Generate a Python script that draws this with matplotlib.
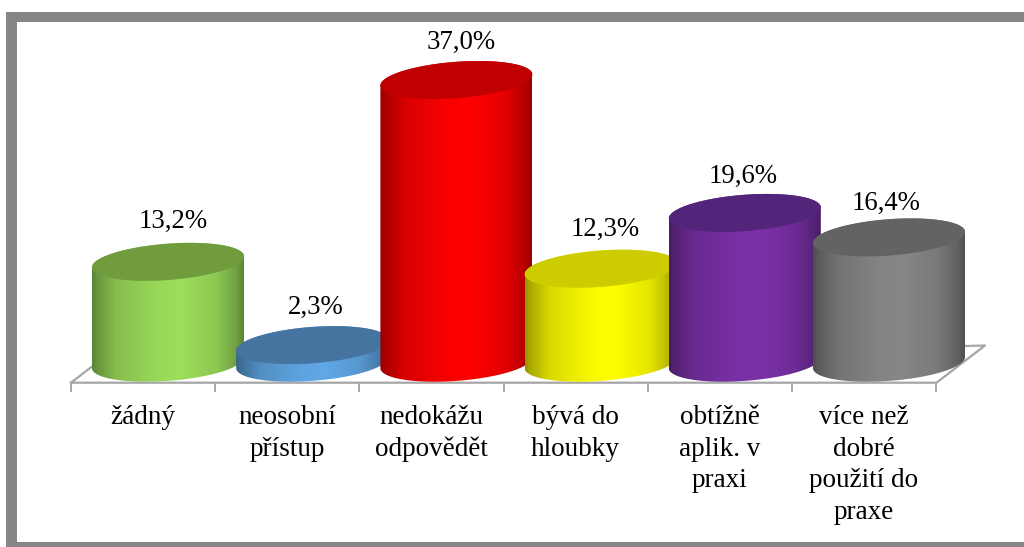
import numpy as np
import matplotlib
matplotlib.use("Agg")
import matplotlib.pyplot as plt
from matplotlib.patches import Polygon, Rectangle
from matplotlib.colors import to_rgb

categories = ["žádný", "neosobní\npřístup", "nedokážu\nodpovědět", "bývá do\nhloubky",
              "obtížně\naplik. v\npraxi", "více než\ndobré\npoužití do\npraxe"]
values = [13.2, 2.3, 37.0, 12.3, 19.6, 16.4]
value_labels = ["13,2%", "2,3%", "37,0%", "12,3%", "19,6%", "16,4%"]
body_colors = ["#9DDF5C", "#60A8E6", "#FF0000", "#FFFF00", "#7B31A8", "#878787"]
top_colors = ["#709C3E", "#44749F", "#C00000", "#CCCC00", "#52257A", "#636363"]

W, H = 1024, 547
PX_X0, PX_STEP = 168.0, 144.2      # pixel x of the first category, category pitch
PX_Y0, PX_PER = 362.7, 7.64        # pixel y of the zero level, pixels per percent
A = 76.0 / PX_STEP                  # half width of a cylinder
B = 18.2 / PX_PER                   # half height of an ellipse
K = 5.5 / PX_PER                    # tilt of an ellipse
FRONT_SHIFT = -25.0 / PX_STEP       # front axis is displaced from the cylinders by the 3D view

plt.rcParams["font.family"] = ["Liberation Serif", "DejaVu Serif"]
fig = plt.figure(figsize=(W / 100, H / 100), dpi=100)
ax = fig.add_axes([0, 0, 1, 1])
ax.axis("off")


def xd(px):
    return (px - PX_X0) / PX_STEP


def yd(py):
    return (PX_Y0 - py) / PX_PER


def frame(x0, y0, x1, y1):
    ax.add_patch(Rectangle((xd(x0), yd(y1)), xd(x1) - xd(x0), yd(y0) - yd(y1),
                           fc="#868686", ec="none", zorder=1))


frame(6, 12, 1024, 22)
frame(6, 12, 17, 547)
frame(6, 542, 1024, 547)

# floor of the 3D plot
FLOOR = "#A6A6A6"
floor_x = [71, 92, 985, 936.5, 71]
floor_y = [382.7, 366.5, 345.5, 382.7, 382.7]
ax.plot(xd(np.array(floor_x, float)), yd(np.array(floor_y, float)), color=FLOOR, lw=1.6, zorder=2)
for i in range(len(categories) + 1):
    x = i - 0.5 + FRONT_SHIFT
    ax.plot([x, x], [yd(382.7), yd(391)], color=FLOOR, lw=1.4, zorder=2)

shade_u = [0.0, 0.03, 0.16, 0.42, 0.58, 0.82, 0.95, 1.0]
shade_f = [0.58, 0.66, 0.85, 0.97, 1.0, 0.90, 0.72, 0.60]
u = np.linspace(0, 1, 256)
shade = np.interp(u, shade_u, shade_f)

t_low = np.linspace(np.pi, 2 * np.pi, 120)
t_up = np.linspace(0, np.pi, 120)
t_all = np.linspace(0, 2 * np.pi, 240)


def ell(cx, cy, t):
    return np.column_stack([cx + A * np.cos(t), cy + B * np.sin(t) + K * np.cos(t)])


for i, v in enumerate(values):
    z = 10 + i * 2
    pts = np.vstack([ell(i, 0, t_low), ell(i, v, t_up)])
    poly = Polygon(pts, closed=True, fc="none", ec="none", transform=ax.transData)
    ax.add_patch(poly)
    img = np.outer(shade, to_rgb(body_colors[i])).reshape(1, 256, 3)
    im = ax.imshow(img, extent=[i - A, i + A, -B - 1, v + B + 1], aspect="auto",
                   interpolation="bilinear", zorder=z)
    im.set_clip_path(poly)
    ax.add_patch(Polygon(ell(i, v, t_all), closed=True, fc=top_colors[i], ec="none", zorder=z + 1))

label_dx = [5, 4, 5, 5, -2, -3]
label_dy = [40, 38, 37.5, 39, 37, 34]
for i, v in enumerate(values):
    ax.text(i + label_dx[i] / PX_STEP, v + label_dy[i] / PX_PER, value_labels[i], ha="center", va="center",
            fontsize=19.3, color="black", zorder=40)
    ax.text(i + FRONT_SHIFT, yd(405), categories[i], ha="center", va="top", fontsize=19.5,
            linespacing=1.35, color="black", zorder=40)

ax.set_xlim(xd(0), xd(W))
ax.set_ylim(yd(H), yd(0))
fig.savefig("out.png", dpi=100, facecolor="white")
